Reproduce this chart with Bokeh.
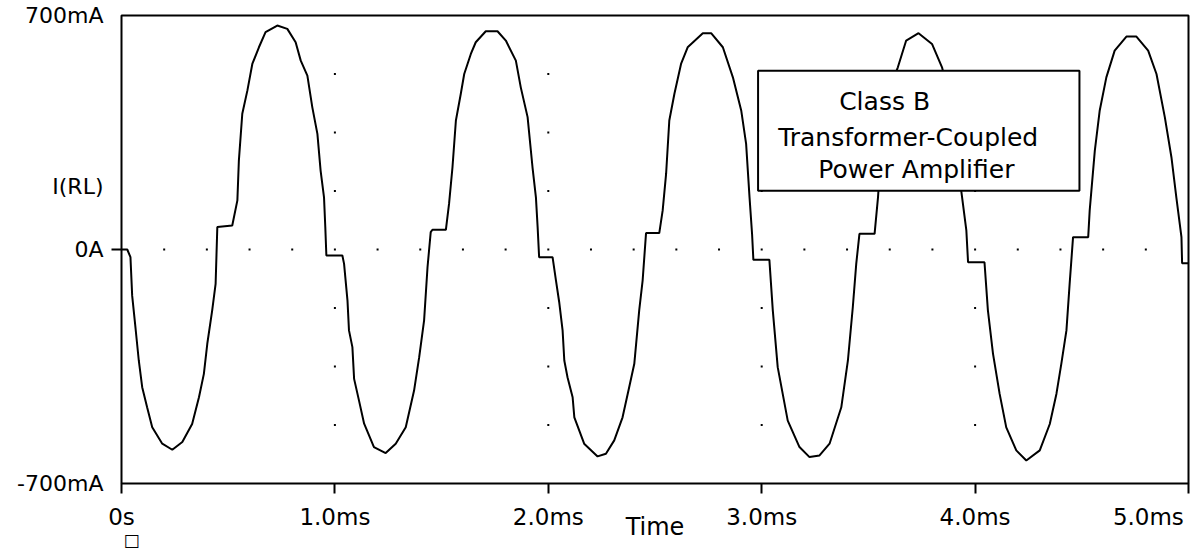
from bokeh.plotting import figure
from bokeh.models import Range1d, FixedTicker, Label, BoxAnnotation, LinearAxis
from bokeh.embed import file_html
from bokeh.resources import INLINE

# ---- data (time in ms, current in mA) ----
time_ms = [
    0.000, 0.027, 0.042, 0.050, 0.066, 0.081, 0.097, 0.120, 0.144, 0.191,
    0.238, 0.285, 0.331, 0.363, 0.386, 0.402, 0.425, 0.441, 0.449, 0.519,
    0.543, 0.550, 0.566, 0.590, 0.613, 0.644, 0.675, 0.730, 0.777, 0.816,
    0.840, 0.871, 0.894, 0.918, 0.933, 0.949, 0.955, 0.960, 1.035,
    1.043, 1.059, 1.066, 1.082, 1.090, 1.113, 1.137, 1.183, 1.238, 1.285,
    1.332, 1.371, 1.395, 1.418, 1.434, 1.449, 1.457, 1.520, 1.535, 1.551,
    1.567, 1.590, 1.606, 1.637, 1.660, 1.707, 1.762, 1.801, 1.848, 1.871,
    1.903, 1.926, 1.942, 1.950, 1.957, 2.020,
    2.036, 2.051, 2.067, 2.075, 2.090, 2.114, 2.122, 2.168, 2.231, 2.270,
    2.309, 2.348, 2.379, 2.403, 2.426, 2.442, 2.458, 2.520, 2.536, 2.552,
    2.567, 2.591, 2.622, 2.653, 2.724, 2.763, 2.818, 2.865, 2.904, 2.927,
    2.943, 2.955, 2.961, 3.036,
    3.052, 3.075, 3.122, 3.177, 3.224, 3.271, 3.318, 3.373, 3.404, 3.427,
    3.443, 3.458, 3.529, 3.545, 3.560, 3.590, 3.610, 3.638, 3.677, 3.735,
    3.798, 3.845, 3.870, 3.900, 3.920, 3.935, 3.959, 3.967, 4.044,
    4.060, 4.084, 4.115, 4.146, 4.193, 4.240, 4.303, 4.350, 4.381, 4.404,
    4.428, 4.443, 4.459, 4.530, 4.537, 4.561, 4.584, 4.615, 4.654, 4.709,
    4.756, 4.811, 4.850, 4.889, 4.920, 4.943, 4.967, 4.970, 5.000,
]
current_mA = [
    0, 0, -23, -138, -237, -332, -412, -472, -532, -581,
    -599, -576, -522, -442, -372, -282, -182, -103, 67, 72,
    147, 266, 406, 476, 555, 605, 650, 670, 660, 620,
    565, 520, 426, 346, 236, 156, 67, -18, -18,
    -43, -153, -242, -292, -387, -452, -521, -591, -609, -581,
    -532, -422, -322, -212, -53, 52, 59, 59, 137, 246,
    386, 466, 525, 585, 620, 653, 653, 625, 565, 485,
    396, 246, 156, 67, -23, -23,
    -93, -157, -242, -332, -382, -442, -502, -581, -619, -611,
    -571, -502, -412, -342, -182, -93, 49, 49, 117, 226,
    386, 466, 555, 605, 647, 647, 605, 515, 416, 316,
    156, 45, -31, -31,
    -182, -352, -512, -591, -621, -616, -581, -472, -332, -172,
    -43, 47, 47, 156, 300, 430, 500, 545, 625, 647,
    615, 545, 480, 390, 290, 176, 57, -38, -38,
    -182, -312, -432, -532, -601, -631, -601, -522, -432, -342,
    -242, -103, 37, 37, 117, 296, 416, 515, 595, 637,
    637, 595, 525, 396, 276, 156, 37, -41, -41,
]

x_ticks = [0, 1, 2, 3, 4, 5]
x_tick_labels = ["0s", "1.0ms", "2.0ms", "3.0ms", "4.0ms", "5.0ms"]
x_label_pos = [0, 1, 2, 3, 4, 4.812]      # last label sits right-aligned to the frame
y_ticks = [-700, 0, 700]
y_tick_labels = ["-700mA", "0A", "700mA"]
y_title_pos = 188
x_grid_minor = [round(0.2 * k, 1) for k in range(1, 25)]
y_grid_minor = [-525, -350, -175, 175, 350, 525]
x_grid_major = [1, 2, 3, 4]

note_lines = ["Class B", "Transformer-Coupled", "Power Amplifier"]

FONT = "DejaVu Sans"

p = figure(width=1198, height=552, output_backend="svg", toolbar_location=None,
           x_range=Range1d(0, 5), y_range=Range1d(-700, 700),
           min_border_left=121, min_border_right=10, min_border_top=15,
           min_border_bottom=69, background_fill_color="white",
           border_fill_color="white")
p.outline_line_color = "black"
p.outline_line_width = 2
p.outline_line_alpha = 1.0
p.xgrid.grid_line_color = None
p.ygrid.grid_line_color = None


def tick_only(ax, ticks):
    ax.ticker = FixedTicker(ticks=ticks)
    ax.major_label_overrides = {t: "" for t in ticks}
    ax.major_label_text_font_size = "0px"
    ax.major_label_standoff = 0
    ax.axis_line_color = None
    ax.major_tick_out = 10
    ax.major_tick_in = 0
    ax.major_tick_line_width = 2
    ax.major_tick_line_color = "black"
    ax.minor_tick_line_color = None


def label_only(ax, pos, labels, size, standoff):
    ax.ticker = FixedTicker(ticks=pos)
    ax.major_label_overrides = dict(zip(pos, labels))
    ax.axis_line_color = None
    ax.major_tick_out = 0
    ax.major_tick_in = 0
    ax.major_tick_line_color = None
    ax.minor_tick_line_color = None
    ax.major_label_text_font = FONT
    ax.major_label_text_font_size = size
    ax.major_label_text_color = "black"
    ax.major_label_standoff = standoff


# inner axes: ticks only
tick_only(p.xaxis[0], x_ticks)
tick_only(p.yaxis[0], [0])

# outer axes: labels only
xlab = LinearAxis()
label_only(xlab, x_label_pos, x_tick_labels, "23px", 10)
xlab.axis_label = "Time"
xlab.axis_label_text_font = FONT
xlab.axis_label_text_font_size = "24px"
xlab.axis_label_text_font_style = "normal"
xlab.axis_label_text_color = "black"
xlab.axis_label_standoff = -20
p.add_layout(xlab, "below")

ylab = LinearAxis()
label_only(ylab, y_ticks + [y_title_pos], y_tick_labels + ["I(RL)"], "22px", 8)
p.add_layout(ylab, "left")

mark = LinearAxis()
label_only(mark, [0.047], ["\u25a1"], "17px", -14)
p.add_layout(mark, "below")

# dotted grid
gx = [x for x in x_grid_major for _ in y_grid_minor] + x_grid_minor
gy = [y for _ in x_grid_major for y in y_grid_minor] + [0] * len(x_grid_minor)
p.scatter(gx, gy, marker="square", size=2, fill_color="black", line_color=None)

# waveform
p.line(time_ms, current_mA, line_color="black", line_width=2)

# annotation box
p.add_layout(BoxAnnotation(left=2.983, right=4.489, bottom=176, top=535,
                           fill_color="white", fill_alpha=1.0,
                           line_color="black", line_width=2, line_alpha=1.0))
for (tx, ty), line in zip([(3.363, 443), (3.077, 335), (3.265, 239)], note_lines):
    p.add_layout(Label(x=tx, y=ty, text=line, text_align="left",
                       text_baseline="alphabetic", text_font=FONT,
                       text_font_size="25px", text_color="black"))

open("out.html", "w").write(file_html(p, INLINE))
